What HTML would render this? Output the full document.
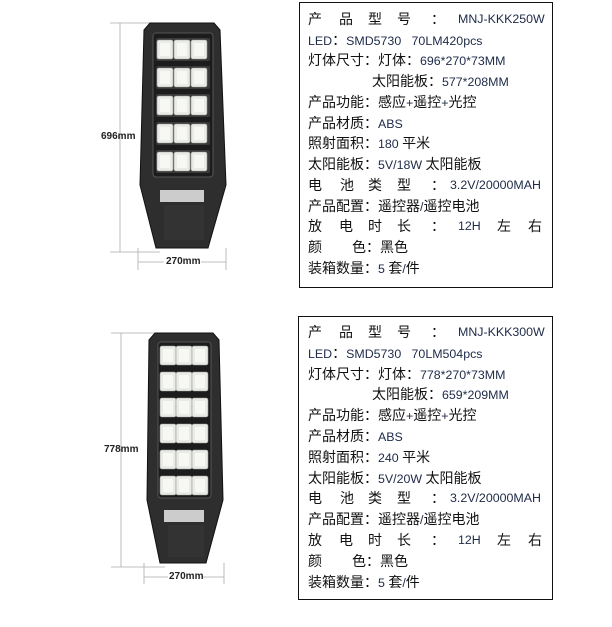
<!DOCTYPE html>
<html><head><meta charset="utf-8"><style>
body{margin:0;width:612px;height:627px;background:#fff;position:relative;overflow:hidden;font-family:"Liberation Sans","Noto Sans CJK SC",sans-serif;}
.box{position:absolute;border:1.3px solid #111;box-sizing:border-box;}
.t{position:absolute;font-size:14px;line-height:16px;white-space:nowrap;color:#111;}
.n{color:#1e2a48;font-size:12.4px;}
.dim{position:absolute;font-size:10px;font-weight:bold;color:#222;}
</style></head><body>
<svg width="612" height="627" style="position:absolute;left:0;top:0">
<defs>
<g id="mod"><rect x="0" y="0" width="16" height="19" rx="2" fill="#e9ece6" stroke="#999" stroke-width="0.6"/><rect x="3" y="3" width="10" height="13" fill="#f7f8f4"/></g>
</defs>
<g stroke="#aaa" stroke-width="0.8" fill="none">
<line x1="110" y1="23" x2="150" y2="23"/><line x1="120" y1="23" x2="120" y2="252"/><line x1="110" y1="252" x2="160" y2="252"/>
<line x1="138" y1="248" x2="138" y2="270"/><line x1="226" y1="248" x2="226" y2="270"/>
<line x1="138" y1="262" x2="164" y2="262"/><line x1="201" y1="262" x2="226" y2="262"/>
</g>
<polygon points="150,23 214,23 220,30 226,185 208,248 156,248 140,185 144,30" fill="#2e2e2e" stroke="#111"/>
<rect x="153" y="33" width="60" height="144" rx="3" fill="#1c1c1c" stroke="#555"/>
<g>
<rect x="156" y="38" width="54" height="23" rx="2" fill="#3a3a3a"/><rect x="156" y="66" width="54" height="23" rx="2" fill="#3a3a3a"/><rect x="156" y="94" width="54" height="23" rx="2" fill="#3a3a3a"/><rect x="156" y="122" width="54" height="23" rx="2" fill="#3a3a3a"/><rect x="156" y="150" width="54" height="23" rx="2" fill="#3a3a3a"/>
</g>
<g>
<use href="#mod" x="157" y="40"/><use href="#mod" x="174" y="40"/><use href="#mod" x="191" y="40"/>
<use href="#mod" x="157" y="68"/><use href="#mod" x="174" y="68"/><use href="#mod" x="191" y="68"/>
<use href="#mod" x="157" y="96"/><use href="#mod" x="174" y="96"/><use href="#mod" x="191" y="96"/>
<use href="#mod" x="157" y="124"/><use href="#mod" x="174" y="124"/><use href="#mod" x="191" y="124"/>
<use href="#mod" x="157" y="152"/><use href="#mod" x="174" y="152"/><use href="#mod" x="191" y="152"/>
</g>
<rect x="160" y="190" width="44" height="12" fill="#ccc"/>
<rect x="164" y="205" width="40" height="35" fill="#333"/>
<g stroke="#aaa" stroke-width="0.8" fill="none">
<line x1="111" y1="333" x2="155" y2="333"/><line x1="121" y1="333" x2="121" y2="567"/><line x1="111" y1="567" x2="165" y2="567"/>
<line x1="144" y1="563" x2="144" y2="584"/><line x1="224" y1="563" x2="224" y2="584"/>
<line x1="144" y1="577" x2="168" y2="577"/><line x1="202" y1="577" x2="224" y2="577"/>
</g>
<polygon points="155,333 213,333 219,340 223,500 206,563 160,563 147,500 149,340" fill="#2e2e2e" stroke="#111"/>
<rect x="158" y="342" width="53" height="156" rx="3" fill="#1c1c1c" stroke="#555"/>
<g>
<use href="#mod" x="160" y="346"/><use href="#mod" x="176" y="346"/><use href="#mod" x="192" y="346"/>
<use href="#mod" x="160" y="372"/><use href="#mod" x="176" y="372"/><use href="#mod" x="192" y="372"/>
<use href="#mod" x="160" y="398"/><use href="#mod" x="176" y="398"/><use href="#mod" x="192" y="398"/>
<use href="#mod" x="160" y="424"/><use href="#mod" x="176" y="424"/><use href="#mod" x="192" y="424"/>
<use href="#mod" x="160" y="450"/><use href="#mod" x="176" y="450"/><use href="#mod" x="192" y="450"/>
<use href="#mod" x="160" y="476"/><use href="#mod" x="176" y="476"/><use href="#mod" x="192" y="476"/>
</g>
<rect x="164" y="510" width="40" height="12" fill="#ccc"/>
<rect x="168" y="525" width="36" height="32" fill="#333"/>
</svg>
<div class="dim" style="left:101px;top:131px">696mm</div>
<div class="dim" style="left:166px;top:256px">270mm</div>
<div class="dim" style="left:104px;top:444px">778mm</div>
<div class="dim" style="left:169px;top:571px">270mm</div>

<div class="box" style="left:299px;top:2px;width:254px;height:286px"></div>
<div class="box" style="left:298px;top:316px;width:255px;height:284px"></div>

<div class="t" style="left:308px;top:11px">产</div><div class="t" style="left:339px;top:11px">品</div><div class="t" style="left:368px;top:11px">型</div><div class="t" style="left:397px;top:11px">号</div><div class="t" style="left:431px;top:11px">：</div><div class="t n" style="left:458px;top:11px">MNJ-KKK250W</div>
<div class="t" style="left:308px;top:32px"><span class="n">LED</span>：<span class="n">SMD5730&nbsp;&nbsp;&nbsp;70LM420pcs</span></div>
<div class="t" style="left:308px;top:52px">灯体尺寸：灯体：<span class="n">696*270*73MM</span></div>
<div class="t" style="left:372px;top:73px">太阳能板：<span class="n">577*208MM</span></div>
<div class="t" style="left:308px;top:94px">产品功能：感应<span class="n">+</span>遥控<span class="n">+</span>光控</div>
<div class="t" style="left:308px;top:115px">产品材质：<span class="n">ABS</span></div>
<div class="t" style="left:308px;top:135px">照射面积：<span class="n">180 </span>平米</div>
<div class="t" style="left:308px;top:156px">太阳能板：<span class="n">5V/18W </span>太阳能板</div>
<div class="t" style="left:308px;top:177px">电</div><div class="t" style="left:340px;top:177px">池</div><div class="t" style="left:368px;top:177px">类</div><div class="t" style="left:397px;top:177px">型</div><div class="t" style="left:431px;top:177px">：</div><div class="t n" style="left:450px;top:177px">3.2V/20000MAH</div>
<div class="t" style="left:308px;top:198px">产品配置：遥控器<span class="n">/</span>遥控电池</div>
<div class="t" style="left:308px;top:218px">放</div><div class="t" style="left:339px;top:218px">电</div><div class="t" style="left:368px;top:218px">时</div><div class="t" style="left:397px;top:218px">长</div><div class="t" style="left:431px;top:218px">：</div><div class="t n" style="left:458px;top:218px">12H</div><div class="t" style="left:497px;top:218px">左</div><div class="t" style="left:528px;top:218px">右</div>
<div class="t" style="left:308px;top:239px">颜</div><div class="t" style="left:352px;top:239px">色：黑色</div>
<div class="t" style="left:308px;top:260px">装箱数量：<span class="n">5 </span>套<span class="n">/</span>件</div>

<div class="t" style="left:308px;top:324px">产</div><div class="t" style="left:339px;top:324px">品</div><div class="t" style="left:368px;top:324px">型</div><div class="t" style="left:397px;top:324px">号</div><div class="t" style="left:431px;top:324px">：</div><div class="t n" style="left:458px;top:324px">MNJ-KKK300W</div>
<div class="t" style="left:308px;top:345px"><span class="n">LED</span>：<span class="n">SMD5730&nbsp;&nbsp;&nbsp;70LM504pcs</span></div>
<div class="t" style="left:308px;top:366px">灯体尺寸：灯体：<span class="n">778*270*73MM</span></div>
<div class="t" style="left:372px;top:386px">太阳能板：<span class="n">659*209MM</span></div>
<div class="t" style="left:308px;top:407px">产品功能：感应<span class="n">+</span>遥控<span class="n">+</span>光控</div>
<div class="t" style="left:308px;top:428px">产品材质：<span class="n">ABS</span></div>
<div class="t" style="left:308px;top:449px">照射面积：<span class="n">240 </span>平米</div>
<div class="t" style="left:308px;top:470px">太阳能板：<span class="n">5V/20W </span>太阳能板</div>
<div class="t" style="left:308px;top:490px">电</div><div class="t" style="left:340px;top:490px">池</div><div class="t" style="left:368px;top:490px">类</div><div class="t" style="left:397px;top:490px">型</div><div class="t" style="left:431px;top:490px">：</div><div class="t n" style="left:450px;top:490px">3.2V/20000MAH</div>
<div class="t" style="left:308px;top:511px">产品配置：遥控器<span class="n">/</span>遥控电池</div>
<div class="t" style="left:308px;top:532px">放</div><div class="t" style="left:339px;top:532px">电</div><div class="t" style="left:368px;top:532px">时</div><div class="t" style="left:397px;top:532px">长</div><div class="t" style="left:431px;top:532px">：</div><div class="t n" style="left:458px;top:532px">12H</div><div class="t" style="left:497px;top:532px">左</div><div class="t" style="left:528px;top:532px">右</div>
<div class="t" style="left:308px;top:553px">颜</div><div class="t" style="left:352px;top:553px">色：黑色</div>
<div class="t" style="left:308px;top:574px">装箱数量：<span class="n">5 </span>套<span class="n">/</span>件</div>
</body></html>
